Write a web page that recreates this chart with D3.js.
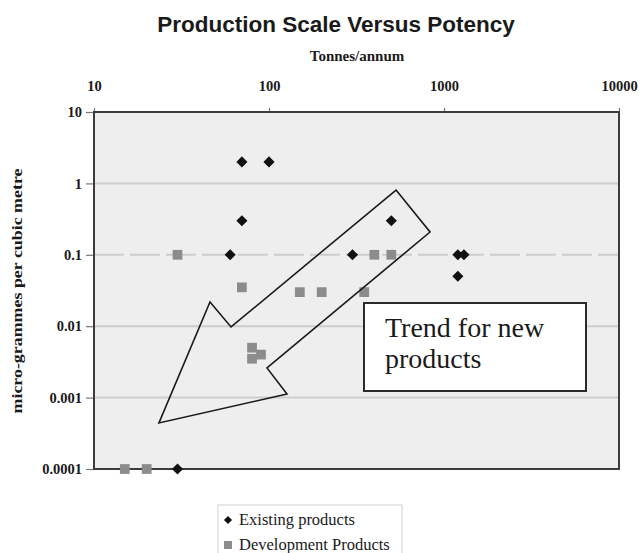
<!DOCTYPE html>
<html>
<head>
<meta charset="utf-8">
<script src="https://cdn.jsdelivr.net/npm/d3@7"></script>
<style>
  html, body { margin: 0; padding: 0; background: #ffffff; }
  svg { display: block; }
</style>
</head>
<body>
<svg id="chart" width="641" height="553"></svg>
<script>
// ---------- data ----------
const xTickValues = [10, 100, 1000, 10000];
const xTickLabels = ["10", "100", "1000", "10000"];
const yTickValues = [0.0001, 0.001, 0.01, 0.1, 1, 10];
const yTickLabels = ["0.0001", "0.001", "0.01", "0.1", "1", "10"];
const gridValues = [1, 0.1, 0.01, 0.001];

const existingTonnes = [70, 100, 70, 60, 300, 500, 1200, 1300, 1200, 30];
const existingPotency = [2, 2, 0.3, 0.1, 0.1, 0.3, 0.1, 0.1, 0.05, 0.0001];

const devTonnes = [30, 70, 150, 200, 350, 400, 500, 80, 80, 90, 15, 20];
const devPotency = [0.1, 0.035, 0.03, 0.03, 0.03, 0.1, 0.1, 0.005, 0.0035, 0.004, 0.0001, 0.0001];

const seriesNames = ["Existing products", "Development Products"];

// trend arrow outline (annotation), in data units
const arrowTonnes = [532, 832, 97.4, 126.7, 23.5, 46, 60.7];
const arrowPotency = [0.808, 0.2086, 0.0026, 0.001123, 0.000441, 0.0218, 0.00975];
const noteLines = ["Trend for new", "products"];

// ---------- drawing ----------
const svg = d3.select("#chart");
const pL = 94, pR = 619, pT = 112, pB = 469;

const x = d3.scaleLog().domain([10, 10000]).range([pL, pR]);
const y = d3.scaleLog().domain([0.0001, 10]).range([pB, pT]);

// title
svg.append("text")
  .attr("x", 336).attr("y", 32)
  .attr("text-anchor", "middle")
  .attr("font-family", "Liberation Sans, Arial, sans-serif")
  .attr("font-weight", "bold")
  .attr("font-size", 22.5)
  .attr("fill", "#1a1a1a")
  .text("Production Scale Versus Potency");

svg.append("text")
  .attr("x", 357).attr("y", 61)
  .attr("text-anchor", "middle")
  .attr("font-family", "Liberation Serif, serif")
  .attr("font-weight", "bold")
  .attr("font-size", 15)
  .attr("fill", "#1a1a1a")
  .text("Tonnes/annum");

// y-axis title
svg.append("text")
  .attr("transform", "translate(22,291) rotate(-90)")
  .attr("text-anchor", "middle")
  .attr("font-family", "Liberation Serif, serif")
  .attr("font-weight", "bold")
  .attr("font-size", 15)
  .attr("fill", "#1a1a1a")
  .attr("textLength", 245)
  .attr("lengthAdjust", "spacingAndGlyphs")
  .text("micro-grammes per cubic metre");

// plot background
svg.append("rect")
  .attr("x", pL).attr("y", pT)
  .attr("width", pR - pL).attr("height", pB - pT)
  .attr("fill", "#eeeeee");

// gridlines
svg.append("g").selectAll("line").data(gridValues).join("line")
  .attr("x1", pL).attr("x2", pR)
  .attr("y1", d => y(d)).attr("y2", d => y(d))
  .attr("stroke", "#cdcdcd")
  .attr("stroke-width", 2)
  .attr("stroke-dasharray", d => d === 0.1 ? "30 6" : null);

// axes
const xAxis = svg.append("g")
  .attr("transform", `translate(0,${pT})`)
  .call(d3.axisTop(x).tickValues(xTickValues)
    .tickFormat((d, i) => xTickLabels[i]).tickSize(4).tickPadding(17));
const yAxis = svg.append("g")
  .attr("transform", `translate(${pL},0)`)
  .call(d3.axisLeft(y).tickValues(yTickValues)
    .tickFormat((d, i) => yTickLabels[i]).tickSize(8).tickPadding(4));

[xAxis, yAxis].forEach(g => {
  g.select(".domain").remove();
  g.selectAll(".tick line").attr("stroke", "#777").attr("stroke-width", 1.2);
  g.selectAll(".tick text")
    .attr("font-family", "Liberation Serif, serif")
    .attr("font-weight", "bold")
    .attr("font-size", 14.5)
    .attr("fill", "#1a1a1a");
});

// frame
svg.append("rect")
  .attr("x", pL).attr("y", pT)
  .attr("width", pR - pL).attr("height", pB - pT)
  .attr("fill", "none")
  .attr("stroke", "#3c3c3c")
  .attr("stroke-width", 2);

// development products (squares)
const squareSym = d3.symbol().type(d3.symbolSquare).size(95);
svg.append("g").selectAll("path").data(devTonnes).join("path")
  .attr("d", squareSym)
  .attr("transform", (d, i) => `translate(${x(d)},${y(devPotency[i])})`)
  .attr("fill", "#8c8c8c");

// existing products (diamonds)
const diamondSym = d3.symbol().type(d3.symbolSquare).size(62);
svg.append("g").selectAll("path").data(existingTonnes).join("path")
  .attr("d", diamondSym)
  .attr("transform", (d, i) => `translate(${x(d)},${y(existingPotency[i])}) rotate(45)`)
  .attr("fill", "#111111");

// trend arrow
const arrowPts = arrowTonnes.map((d, i) => [x(d), y(arrowPotency[i])]);
svg.append("path")
  .attr("d", d3.line()(arrowPts) + "Z")
  .attr("fill", "none")
  .attr("stroke", "#1a1a1a")
  .attr("stroke-width", 1.6)
  .attr("stroke-linejoin", "miter");

// note box
svg.append("rect")
  .attr("x", 364).attr("y", 303)
  .attr("width", 222).attr("height", 88)
  .attr("fill", "#ffffff")
  .attr("stroke", "#2a2a2a")
  .attr("stroke-width", 2);
svg.append("g").selectAll("text").data(noteLines).join("text")
  .attr("x", 385)
  .attr("y", (d, i) => 337 + i * 31)
  .attr("font-family", "Liberation Serif, serif")
  .attr("font-size", 28)
  .attr("fill", "#1a1a1a")
  .text(d => d);

// legend
const lg = svg.append("g");
lg.append("rect")
  .attr("x", 218).attr("y", 505)
  .attr("width", 184).attr("height", 60)
  .attr("fill", "#ffffff")
  .attr("stroke", "#cfcfcf")
  .attr("stroke-width", 1);
lg.append("path")
  .attr("d", d3.symbol().type(d3.symbolSquare).size(34)())
  .attr("transform", "translate(228,520) rotate(45)")
  .attr("fill", "#111111");
lg.append("path")
  .attr("d", d3.symbol().type(d3.symbolSquare).size(64)())
  .attr("transform", "translate(228,545)")
  .attr("fill", "#8c8c8c");
lg.selectAll("text").data(seriesNames).join("text")
  .attr("x", 239)
  .attr("y", (d, i) => 525 + i * 25)
  .attr("font-family", "Liberation Serif, serif")
  .attr("font-size", 16.5)
  .attr("fill", "#1a1a1a")
  .text(d => d);
</script>
</body>
</html>
